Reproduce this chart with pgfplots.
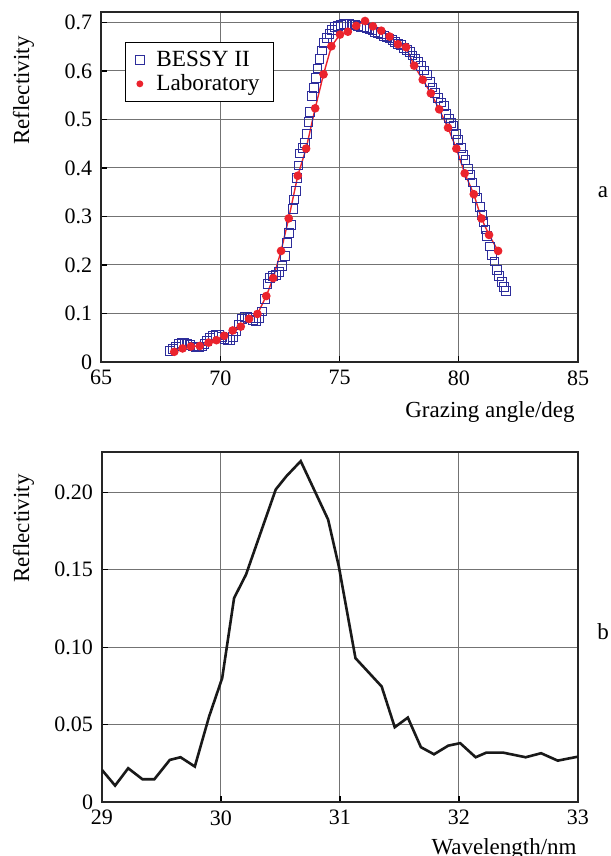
\documentclass[border=0pt]{standalone}
\usepackage{fontspec}
\setmainfont{Liberation Serif}
\usepackage{pgfplots}
\usepackage{pgfplotstable}
\pgfplotsset{compat=1.18}
\definecolor{bessy}{RGB}{45,45,155}
\definecolor{lab}{RGB}{235,35,45}

\pgfplotstableread{
ang refl
67.90 0.022
68.02 0.026
68.14 0.032
68.26 0.037
68.38 0.040
68.50 0.040
68.62 0.038
68.74 0.035
68.86 0.032
68.98 0.030
69.10 0.030
69.22 0.032
69.34 0.037
69.46 0.043
69.58 0.050
69.70 0.054
69.82 0.056
69.94 0.055
70.06 0.052
70.18 0.048
70.30 0.045
70.42 0.046
70.54 0.052
70.66 0.063
70.78 0.077
70.90 0.088
71.02 0.093
71.14 0.093
71.26 0.090
71.38 0.086
71.50 0.085
71.62 0.090
71.74 0.104
71.86 0.130
71.98 0.160
72.10 0.173
72.22 0.178
72.34 0.180
72.46 0.186
72.58 0.198
72.70 0.218
72.80 0.245
72.88 0.266
72.96 0.282
73.04 0.315
73.10 0.335
73.16 0.352
73.22 0.380
73.28 0.405
73.36 0.430
73.46 0.442
73.56 0.452
73.64 0.470
73.70 0.495
73.77 0.516
73.85 0.548
73.94 0.565
74.02 0.585
74.08 0.605
74.16 0.625
74.26 0.642
74.36 0.657
74.47 0.668
74.58 0.677
74.70 0.684
74.82 0.690
74.94 0.693
75.06 0.695
75.18 0.697
75.30 0.697
75.42 0.697
75.54 0.696
75.66 0.695
75.78 0.693
75.90 0.691
76.02 0.690
76.14 0.688
76.26 0.686
76.38 0.684
76.50 0.681
76.62 0.678
76.74 0.675
76.86 0.672
76.98 0.669
77.10 0.667
77.22 0.664
77.34 0.660
77.46 0.656
77.58 0.653
77.70 0.648
77.82 0.644
77.94 0.639
78.06 0.632
78.18 0.625
78.30 0.618
78.42 0.610
78.54 0.601
78.66 0.592
78.78 0.578
78.90 0.566
79.02 0.555
79.14 0.544
79.26 0.535
79.38 0.528
79.48 0.512
79.58 0.502
79.68 0.493
79.78 0.486
79.88 0.470
79.98 0.457
80.08 0.442
80.18 0.427
80.28 0.416
80.38 0.398
80.48 0.385
80.58 0.370
80.68 0.353
80.78 0.338
80.88 0.320
80.96 0.303
81.04 0.288
81.12 0.273
81.20 0.260
81.30 0.238
81.40 0.220
81.50 0.207
81.60 0.190
81.70 0.177
81.80 0.165
81.90 0.155
81.98 0.146
}\bessytab

% laboratory measurement
\pgfplotstableread{
ang refl
68.07 0.021
68.42 0.028
68.77 0.032
69.14 0.033
69.51 0.040
69.84 0.045
70.16 0.054
70.52 0.065
70.86 0.073
71.21 0.089
71.56 0.099
71.93 0.136
72.22 0.173
72.55 0.229
72.87 0.296
73.25 0.384
73.60 0.440
73.98 0.523
74.33 0.593
74.66 0.651
75.02 0.675
75.35 0.681
75.70 0.693
76.07 0.703
76.40 0.692
76.75 0.683
77.10 0.671
77.45 0.655
77.79 0.649
78.13 0.611
78.49 0.582
78.83 0.554
79.18 0.521
79.55 0.483
79.90 0.440
80.25 0.389
80.63 0.346
80.95 0.296
81.27 0.262
81.65 0.229
}\labtab

% spectrum, panel b
\pgfplotstableread{
wl refl
29.00 0.0207
29.11 0.0106
29.22 0.0218
29.34 0.0147
29.44 0.0147
29.57 0.0272
29.66 0.0289
29.78 0.0229
29.90 0.0552
30.01 0.0800
30.11 0.1317
30.21 0.1468
30.46 0.2018
30.55 0.2104
30.67 0.2201
30.90 0.1824
30.99 0.1522
31.13 0.0929
31.35 0.0746
31.46 0.0483
31.57 0.0545
31.68 0.0354
31.79 0.0308
31.91 0.0364
32.01 0.0380
32.14 0.0289
32.23 0.0319
32.37 0.0319
32.56 0.0289
32.69 0.0315
32.83 0.0267
33.00 0.0293
}\spectab

\pgfplotsset{
  panel/.style={
    scale only axis,
    grid=major,
    major grid style={black!55, line width=0.5pt},
    axis line style={black!85, line width=0.8pt},
    tick style={black, line width=0.6pt},
    major tick length=3pt,
    tick align=inside,
    tick pos=left,
    ticklabel style={font=\fontsize{11}{13}\selectfont},
    yticklabel style={xshift=-0.8pt},
    xticklabel style={yshift=-0.5pt},
    /pgf/number format/assume math mode=true,
  },
}

\begin{document}
\fontsize{10.5}{12.6}\selectfont
\begin{tikzpicture}[x=1pt,y=1pt]
\useasboundingbox (0,0) rectangle (305,-428);

\begin{axis}[panel,
  at={(50.5pt,-181pt)}, anchor=south west,
  width=238.5pt, height=175pt,
  xmin=65, xmax=85, ymin=0, ymax=0.7216,
  xtick={65,70,75,80,85},
  ytick={0,0.1,0.2,0.3,0.4,0.5,0.6,0.7},
  yticklabels={0,0.1,0.2,0.3,0.4,0.5,0.6,0.7},
  legend style={at={(0.05,0.914)}, anchor=north west, draw=black,
    line width=0.6pt, font=\fontsize{11.6}{13}\selectfont,
    inner xsep=5pt, inner ysep=2pt, row sep=-1.5pt},
  legend cell align=left,
  legend image code/.code={\path[draw=none, fill=none] (0cm,0cm) -- (0.29cm,0cm);
    \draw[#1] plot coordinates {(0.07cm,0cm)};},
]
\addplot[bessy, only marks, mark=square, mark size=2.2pt,
  mark options={line width=0.5pt}] table[x=ang, y=refl] {\bessytab};
\addlegendentry{BESSY II}
\addplot[lab, line width=0.7pt, mark=*, mark size=1.8pt, forget plot]
  table[x=ang, y=refl] {\labtab};
\addlegendimage{lab, only marks, mark=*, mark size=1.4pt}
\addlegendentry{Laboratory}
\end{axis}

\begin{axis}[panel,
  at={(51pt,-401pt)}, anchor=south west,
  width=238pt, height=175pt,
  xmin=29, xmax=33, ymin=0, ymax=0.226,
  xtick={29,30,31,32,33},
  ytick={0,0.05,0.10,0.15,0.20},
  yticklabels={0,0.05,0.10,0.15,0.20},
]
\addplot[black!90, line width=1.3pt] table[x=wl, y=refl] {\spectab};
\end{axis}

\begin{scope}[every node/.style={inner sep=0pt, font=\fontsize{11.5}{14}\selectfont}]
\node[rotate=90, anchor=base east] at (14.5,-18) {Reflectivity};
\node[rotate=90, anchor=base east] at (14.5,-237) {Reflectivity};
\node[anchor=base east] at (287.5,-208.5) {Grazing angle/deg};
\node[anchor=base east] at (288.5,-427) {Wavelength/nm};
\node at (301.5,-96) {a};
\node at (301.5,-316) {b};
\end{scope}
\end{tikzpicture}
\end{document}
